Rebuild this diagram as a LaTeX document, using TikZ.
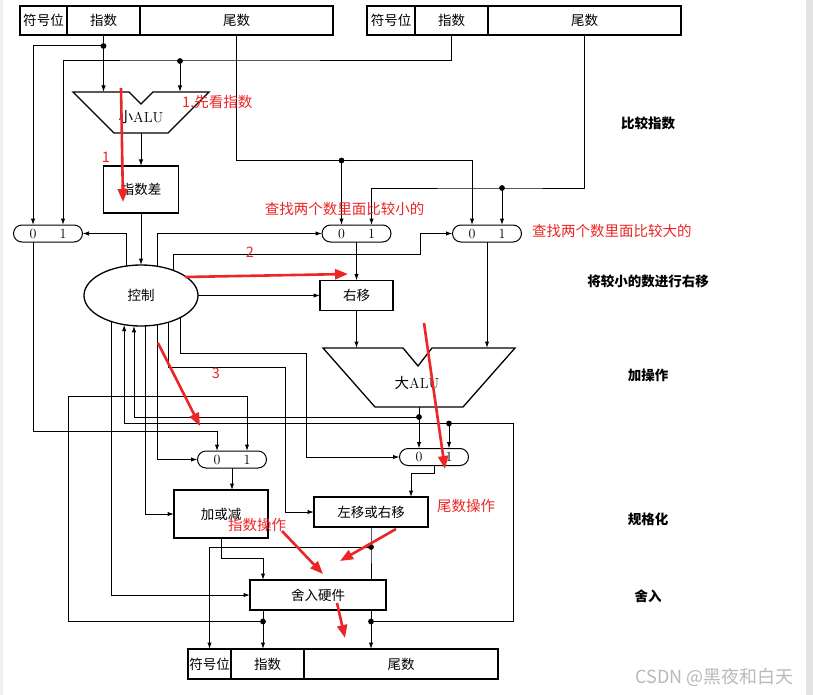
\documentclass[tikz,border=0pt]{standalone}
\usepackage{fontspec}
\newfontfamily\cjk{Noto Sans CJK SC}
\usetikzlibrary{shapes,arrows.meta,positioning}
\definecolor{mark}{RGB}{236,38,38}
\tikzstyle{reg} = [draw,line width=1.3pt,rectangle,inner sep=0,outer sep=0,minimum height=29,font=\cjk\fontsize{13.5}{15}\selectfont]
\tikzstyle{unit} = [draw,line width=1.3pt,rectangle,inner sep=0,outer sep=0,font=\cjk\fontsize{13.5}{15}\selectfont]
\tikzstyle{mux} = [draw,line width=1pt,rectangle,rounded corners=8.5,minimum width=69,minimum height=17,inner sep=0,outer sep=0]
\tikzstyle{digit} = [inner sep=0,font=\fontsize{14}{15}\selectfont]
\tikzstyle{wire} = [line width=1pt]
\tikzstyle{arr} = [wire,-{Latex[length=6.5pt,width=4.4pt]}]
\tikzstyle{note} = [text=mark,inner sep=0,font=\cjk\fontsize{14.5}{16}\selectfont]
\tikzstyle{stage} = [inner sep=0,font=\cjk\bfseries\fontsize{13.5}{16}\selectfont]
\tikzstyle{redarr} = [draw=mark,line width=2.6pt,-{Triangle[length=13pt,width=10pt]}]
\def \dotr {2.9pt}

\begin{document}
\begin{tikzpicture}[x=1pt,y=-1pt]
  \fill[white] (0,0) rectangle (813,695);
  \fill[gray!12] (0,0) rectangle (2.5,695);
  \fill[gray!22] (806,0) rectangle (813,695);
  \useasboundingbox (0,0) rectangle (813,695);

  % registers
  \node[reg,minimum width=47] (aSign) at (43.5,20.5) {符号位};
  \node[reg,minimum width=73,right=0pt of aSign] (aExp) {指数};
  \node[reg,minimum width=193,right=0pt of aExp] (aMan) {尾数};
  \node[reg,minimum width=48] (bSign) at (391,20.5) {符号位};
  \node[reg,minimum width=73,right=0pt of bSign] (bExp) {指数};
  \node[reg,minimum width=193,right=0pt of bExp] (bMan) {尾数};
  \node[reg,minimum width=43,minimum height=30] (cSign) at (209.5,664) {符号位};
  \node[reg,minimum width=73,minimum height=30,right=0pt of cSign] (cExp) {指数};
  \node[reg,minimum width=194,minimum height=30,right=0pt of cExp] (cMan) {尾数};

  % ALUs
  \draw[line width=1.3pt] (73,92) -- (129,92) -- (141,104) -- (153,92) -- (209,92) -- (168,133) -- (114,133) -- cycle;
  \node[font=\fontsize{14.5}{15}\selectfont] (sALU) at (141,117) {{\cjk 小}ALU};
  \draw[line width=1.3pt] (323,348) -- (403,348) -- (418,366) -- (432,348) -- (515,348) -- (463,407) -- (375,407) -- cycle;
  \node[font=\fontsize{14.5}{15}\selectfont] (bALU) at (417,383) {{\cjk 大}ALU};
  \coordinate (sALUa) at (103.5,92);
  \coordinate (sALUb) at (180,92);
  \coordinate (sALUout) at (141,133);
  \coordinate (bALUa) at (356.5,348);
  \coordinate (bALUb) at (487,348);
  \coordinate (bALUout) at (419,407);

  % boxes
  \node[unit,minimum width=75,minimum height=47] (diff) at (141,189.5) {指数差};
  \node[unit,ellipse,minimum width=114,minimum height=61] (ctl) at (141,295.5) {控制};
  \node[unit,minimum width=73,minimum height=30] (rsh) at (356.5,295.5) {右移};
  \node[unit,minimum width=94,minimum height=48] (addsub) at (221,514) {加或减};
  \node[unit,minimum width=114,minimum height=30] (lrsh) at (371,512) {左移或右移};
  \node[unit,minimum width=136,minimum height=30] (round) at (318,595) {舍入硬件};

  % muxes
  \node[mux] (muxA) at (48,233.5) {};
  \node[mux] (muxB) at (356.5,233.5) {};
  \node[mux] (muxC) at (487,233.5) {};
  \node[mux] (muxD) at (232,459.5) {};
  \node[mux] (muxE) at (434,457) {};
  \foreach \m in {muxA,muxB,muxC,muxD,muxE} {
    \coordinate (\m0) at ([xshift=-15pt]\m.north);
    \coordinate (\m1) at ([xshift=15pt]\m.north);
    \node[digit] (\m-d0) at ([xshift=-15pt]\m.center) {0};
    \node[digit] (\m-d1) at ([xshift=15pt]\m.center) {1};
  }

  % junctions
  \coordinate (jA) at (103.5,46);
  \coordinate (jB) at (180,61);
  \coordinate (jC) at (341.5,160.5);
  \coordinate (jD) at (502,188);
  \coordinate (jE) at (419,417);
  \coordinate (jF) at (449,423.5);
  \coordinate (jG) at (371,547);
  \coordinate (jH) at (263,621.5);
  \coordinate (jI) at (371,621.5);

  % exponent compare
  \draw[wire] (aExp.south) -- (jA);
  \draw[arr] (jA) -- (sALUa);
  \draw[arr] (jA) -| (muxA0);
  \draw[arr] (bExp.south) |- (jB) -| (muxA1);
  \draw[arr] (jB) -- (sALUb);
  \draw[arr] (sALUout) -- (diff.north);
  \draw[arr] (diff.south) -- (ctl.north);
  \draw[arr] (aMan.south) |- (jC) -| (muxC0);
  \draw[arr] (jC) -- (muxB0);
  \draw[arr] (bMan.south) |- (jD) -| (muxB1);
  \draw[arr] (jD) -- (muxC1);

  % shift and add
  \draw[arr] (ctl.117) |- (muxA.east);
  \draw[arr] (ctl.61) |- (muxB.west);
  \draw[arr] (ctl.38) |- (420,254) |- (muxC.west);
  \draw[arr] (ctl.east) -- (rsh.west);
  \draw[arr] (muxB.south) -- (rsh.north);
  \draw[arr] (rsh.south) -- (bALUa);
  \draw[arr] (muxC.south) -- (bALUb);

  % normalise and round
  \draw[wire] (bALUout) -- (jE);
  \draw[arr] (jE) -- (muxE0);
  \draw[arr] (jE) -| (ctl.257);
  \draw[arr] (jI) -| (513,423.5) -| (ctl.240);
  \draw[arr] (jF) -- (muxE1);
  \draw[arr] (muxA.south -| muxA0) -- ++(0,189.5) -| (muxD0);
  \draw[arr] (jH) -| (68,396) -| (muxD1);
  \draw[arr] (ctl.221) |- (round.west);
  \draw[arr] (ctl.279) |- (addsub.west);
  \draw[arr] (ctl.300) |- (muxD.west);
  \draw[arr] (ctl.316) |- (285,367) |- (lrsh.west);
  \draw[arr] (ctl.331) |- (306,353) |- (muxE.west);
  \draw[arr] (muxD.south) -- (muxD.south |- addsub.north);
  \draw[arr] (addsub.south) -- ++(0,20) -| ([xshift=-55pt]round.north);
  \draw[arr] (muxE.south) -- ++(0,8) -| ([xshift=40pt]lrsh.north);
  \draw[wire] (lrsh.south) -- (jG) -- (round.north -| jG);
  \draw[arr] (jG) -| (cSign.north);
  \draw[wire] (round.south -| jH) -- (jH);
  \draw[arr] (jH) -- (jH |- cExp.north);
  \draw[wire] (round.south -| jI) -- (jI);
  \draw[arr] (jI) -- (jI |- cMan.north);

  \foreach \j in {jA,jB,jC,jD,jE,jF,jG,jH,jI}
    \fill (\j) circle (\dotr);

  % stages
  \node[stage] (s1) at (648,123) {比较指数};
  \node[stage] (s2) at (648,281) {将较小的数进行右移};
  \node[stage] (s3) at (648,375) {加操作};
  \node[stage] (s4) at (648,519) {规格化};
  \node[stage] (s5) at (648,596) {舍入};

  % red marks
  \node[note,anchor=west] (n1) at (182,102) {1.先看指数};
  \node[note] (n1b) at (106,157) {1};
  \node[note] (n2) at (344.5,209) {查找两个数里面比较小的};
  \node[note,anchor=west] (n3) at (532,231) {查找两个数里面比较大的};
  \node[note] (n4) at (250,252) {2};
  \node[note] (n5) at (216,373) {3};
  \node[note,anchor=west] (n6) at (437,506) {尾数操作};
  \node[note,anchor=west] (n7) at (228,525) {指数操作};
  \draw[redarr] (121,88) -- (123,202);
  \draw[redarr] (185,277) -- (348,274);
  \draw[redarr] (158,343) -- (200,426);
  \draw[redarr] (424,323) -- (445,469);
  \draw[redarr] (282,531) -- (323,574);
  \draw[redarr] (396,529) -- (340,561);
  \draw[redarr] (337,603) -- (345,638);

  \node[text=gray!55,font=\cjk\fontsize{18}{20}\selectfont,anchor=east] (wm) at (797,677) {CSDN @黑夜和白天};
\end{tikzpicture}
\end{document}
